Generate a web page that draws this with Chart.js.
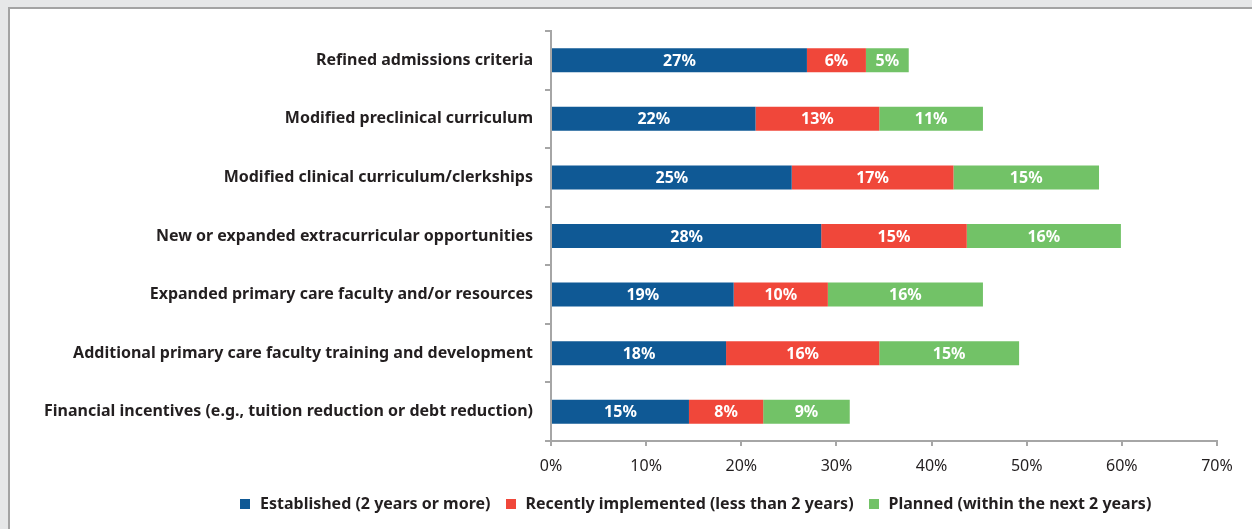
<!DOCTYPE html>
<html>
<head>
<meta charset="utf-8">
<script src="https://cdn.jsdelivr.net/npm/chart.js@4.4.1/dist/chart.umd.min.js"></script>
<style>
  html, body { margin: 0; padding: 0; background: #e6e7e8; }
  #frame {
    position: absolute; left: 8px; top: 7px; right: 0; bottom: 0;
    background: #fff; border-top: 2px solid #a3a3a3; border-left: 2px solid #a3a3a3;
  }
  #wrap { position: absolute; left: 0; top: 0; width: 1252px; height: 529px; }
  #legend {
    position: absolute; top: 492px; left: 240px; white-space: nowrap;
    font: bold 16px "Noto Sans", sans-serif; color: #231f20;
  }
  #legend span.item { margin-right: 15px; }
  #legend i { display: inline-block; width: 10px; height: 10px; margin-right: 10px; vertical-align: 0px; }
</style>
</head>
<body>
<div id="frame"></div>
<div id="wrap"><canvas id="mainChart" width="1252" height="529"></canvas></div>
<div id="legend"></div>
<script>
// categories, top to bottom
const categories = [
    'Refined admissions criteria',
    'Modified preclinical curriculum',
    'Modified clinical curriculum/clerkships',
    'New or expanded extracurricular opportunities',
    'Expanded primary care faculty and/or resources',
    'Additional primary care faculty training and development',
    'Financial incentives (e.g., tuition reduction or debt reduction)'
];

const seriesNames = [
    'Established (2 years or more)',
    'Recently implemented (less than 2 years)',
    'Planned (within the next 2 years)'
];
const seriesColors = ['#0f5995', '#f0473a', '#72c267'];

// percent values
const established = [26.9, 21.5, 25.3, 28.4, 19.2, 18.4, 14.5];
const recent      = [6.2, 13.0, 17.0, 15.3, 9.9, 16.1, 7.8];
const planned     = [4.5, 10.9, 15.3, 16.2, 16.3, 14.7, 9.1];

const xTicks = [0, 10, 20, 30, 40, 50, 60, 70];

const axisGray = '#a6a6a6';
const textColor = '#231f20';

// white percent labels inside each segment
const barLabelPlugin = {
    id: 'barLabels',
    afterDatasetsDraw(chart) {
        const ctx = chart.ctx;
        ctx.save();
        ctx.font = 'bold 16px "Noto Sans", sans-serif';
        ctx.fillStyle = '#ffffff';
        ctx.textAlign = 'center';
        ctx.textBaseline = 'middle';
        chart.data.datasets.forEach((ds, di) => {
            const meta = chart.getDatasetMeta(di);
            meta.data.forEach((bar, i) => {
                const cx = (bar.x + bar.base) / 2;
                ctx.fillText(Math.round(ds.data[i]) + '%', cx, bar.y + 1);
            });
        });
        ctx.restore();
    }
};

const seriesValues = [established, recent, planned];
const datasets = seriesNames.map((name, k) => {
    const ds = {
        label: name,
        backgroundColor: seriesColors[k],
        borderWidth: 0,
        categoryPercentage: 1,
        barPercentage: 0.41
    };
    ds['data'] = seriesValues[k];
    return ds;
});

const config = {
    type: 'bar',
    plugins: [barLabelPlugin],
    options: {
        indexAxis: 'y',
        responsive: false,
        animation: false,
        layout: { padding: { left: 0, right: 35, top: 31, bottom: 48 } },
        scales: {
            x: {
                stacked: true,
                min: 0,
                max: 70,
                afterBuildTicks: s => { s.ticks = xTicks.map(v => ({ value: v })); },
                afterFit: s => { s.height = 40; },
                border: { color: axisGray, width: 2 },
                grid: { drawOnChartArea: false, color: axisGray, tickLength: 5, lineWidth: 2 },
                ticks: {
                    padding: 11,
                    color: textColor,
                    font: { family: '"Noto Sans", sans-serif', size: 16 },
                    callback: v => v + '%'
                }
            },
            y: {
                stacked: true,
                afterFit: s => { s.width = 551; },
                border: { color: axisGray, width: 2 },
                grid: { drawOnChartArea: false, color: axisGray, tickLength: 6, lineWidth: 2, offset: true },
                ticks: {
                    padding: 12,
                    color: textColor,
                    font: { family: '"Noto Sans", sans-serif', size: 16, weight: 'bold' }
                }
            }
        },
        plugins: {
            legend: { display: false },
            tooltip: { enabled: false }
        }
    }
};
config['data'] = { labels: categories, datasets: datasets };

new Chart(document.getElementById('mainChart').getContext('2d'), config);

// html legend built from the series names
const legendEl = document.getElementById('legend');
seriesNames.forEach((name, k) => {
    const item = document.createElement('span');
    item.className = 'item';
    item.innerHTML = '<i style="background:' + seriesColors[k] + '"></i>' + name;
    legendEl.appendChild(item);
});
</script>
</body>
</html>
